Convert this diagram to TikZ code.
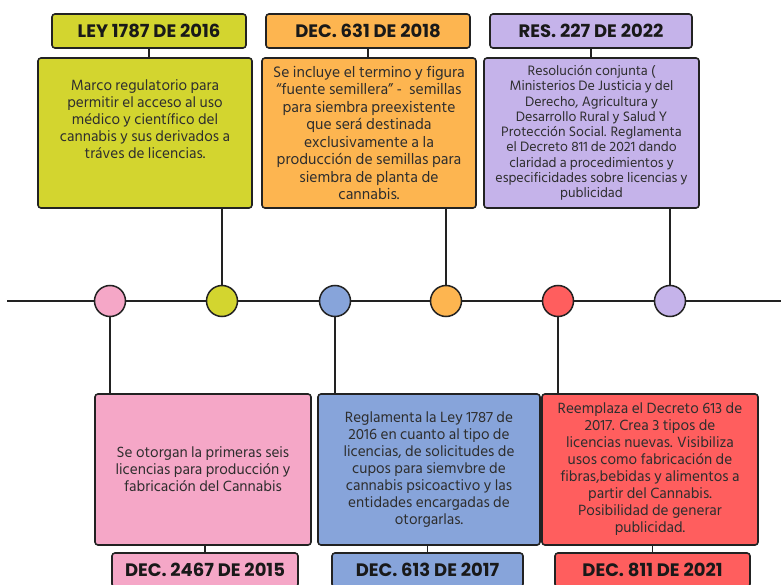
\documentclass[tikz,border=0pt]{standalone}
\usepackage{fontspec}
\setmainfont{Hind Siliguri}
\newfontfamily\titlefont{Poppins}
\definecolor{cyel}{HTML}{D3D52F}
\definecolor{cora}{HTML}{FDB550}
\definecolor{clav}{HTML}{C5B3EA}
\definecolor{cpink}{HTML}{F5A7C7}
\definecolor{cblue}{HTML}{87A4DA}
\definecolor{cred}{HTML}{FF5E5E}
\definecolor{cline}{HTML}{222222}
\definecolor{ctext}{HTML}{2E2E2E}
\tikzset{
  titlebox/.style={draw=cline, line width=1.6pt, rounded corners=3pt, minimum height=34pt, inner sep=0pt,
    font=\titlefont\bfseries\fontsize{18}{20}\selectfont, text=black!90},
  bodybox/.style={draw=cline, line width=1.6pt, rounded corners=3pt, minimum height=150pt, inner sep=0pt,
    align=center, font=\fontsize{15.2}{17}\selectfont, text=ctext},
  bodytext/.style={align=center, font=\fontsize{15.2}{17}\selectfont, text=ctext, inner sep=0pt},
  dot/.style={draw=cline, line width=1.5pt, circle, minimum size=31pt, inner sep=0pt},
  conn/.style={draw=cline, line width=1.5pt}
}
\begin{document}
\begin{tikzpicture}[x=1pt,y=-1pt]
\useasboundingbox (0,0) rectangle (781,585);
\begin{scope}
\clip (0,0) rectangle (781,585);
% timeline
\coordinate (L) at (7,301);
\coordinate (R) at (781,301);
\draw[conn] (L) -- (R);
% dots
\node[dot, fill=cpink] (d1) at (110,301) {};
\node[dot, fill=cyel]  (d2) at (222,301) {};
\node[dot, fill=cblue] (d3) at (335,301) {};
\node[dot, fill=cora]  (d4) at (446,301) {};
\node[dot, fill=cred]  (d5) at (558,301) {};
\node[dot, fill=clav]  (d6) at (670,301) {};
% top titles
\node[titlebox, fill=cyel, minimum width=194pt] (t2) at (149,31) {LEY 1787 DE 2016};
\node[titlebox, fill=cora, minimum width=204pt] (t4) at (368,31) {DEC. 631 DE 2018};
\node[titlebox, fill=clav, minimum width=202pt] (t6) at (591,31) {RES. 227 DE 2022};
% top bodies
\node[bodybox, fill=cyel, minimum width=214pt] (b2) at (145,133) {};
\node[bodytext] (b2t) at (145,119) {Marco regulatorio para\\permitir el acceso al uso\\médico y científico del\\cannabis y sus derivados a\\tráves de licencias.};
\node[bodybox, fill=cora, minimum width=214pt, font=\fontsize{15.6}{17.5}\selectfont] (b4) at (369,133) {Se incluye el termino y figura\\“fuente semillera” -\ \ semillas\\para siembra preexistente\\que será destinada\\exclusivamente a la\\producción de semillas para\\siembra de planta de\\cannabis.};
\node[bodybox, fill=clav, minimum width=215pt, font=\fontsize{14}{15.3}\selectfont] (b6) at (591.5,133) {Resolución conjunta (\\Ministerios De Justicia y del\\Derecho, Agricultura y\\Desarrollo Rural y Salud Y\\Protección Social. Reglamenta\\el Decreto 811 de 2021 dando\\claridad a procedimientos y\\especificidades sobre licencias y\\publicidad};
% bottom bodies
\node[bodybox, fill=cpink, minimum width=216pt, minimum height=151pt] (b1) at (203,469.5) {Se otorgan la primeras seis\\licencias para producción y\\fabricación del Cannabis};
\node[bodybox, fill=cblue, minimum width=222pt, minimum height=151pt] (b3) at (429,469.5) {Reglamenta la Ley 1787 de\\2016 en cuanto al tipo de\\licencias, de solicitudes de\\cupos para siemvbre de\\cannabis psicoactivo y las\\entidades encargadas de\\otorgarlas.};
\node[bodybox, fill=cred, minimum width=216pt, minimum height=151pt] (b5) at (650,469.5) {Reemplaza el Decreto 613 de\\2017. Crea 3 tipos de\\licencias nuevas. Visibiliza\\usos como fabricación de\\fibras,bebidas y alimentos a\\partir del Cannabis.\\Posibilidad de generar\\publicidad.};
% bottom titles
\node[titlebox, fill=cpink, minimum width=186pt] (t1) at (205,570) {DEC. 2467 DE 2015};
\node[titlebox, fill=cblue, minimum width=191pt] (t3) at (427.5,570) {DEC. 613 DE 2017};
\node[titlebox, fill=cred, minimum width=195pt] (t5) at (652.5,570) {DEC. 811 DE 2021};
% connectors title-body
\draw[conn] (t2.south) -- (t2.south |- b2.north);
\draw[conn] (t4.south) -- (t4.south |- b4.north);
\draw[conn] (t6.south) -- (t6.south |- b6.north);
\draw[conn] (t1.north) -- (t1.north |- b1.south);
\draw[conn] (t3.north) -- (t3.north |- b3.south);
\draw[conn] (t5.north) -- (t5.north |- b5.south);
% connectors body-dot
\draw[conn] (d2.north) -- (d2.north |- b2.south);
\draw[conn] (d4.north) -- (d4.north |- b4.south);
\draw[conn] (d6.north) -- (d6.north |- b6.south);
\draw[conn] (d1.south) -- (d1.south |- b1.north);
\draw[conn] (d3.south) -- (d3.south |- b3.north);
\draw[conn] (d5.south) -- (d5.south |- b5.north);
\end{scope}
\end{tikzpicture}
\end{document}
